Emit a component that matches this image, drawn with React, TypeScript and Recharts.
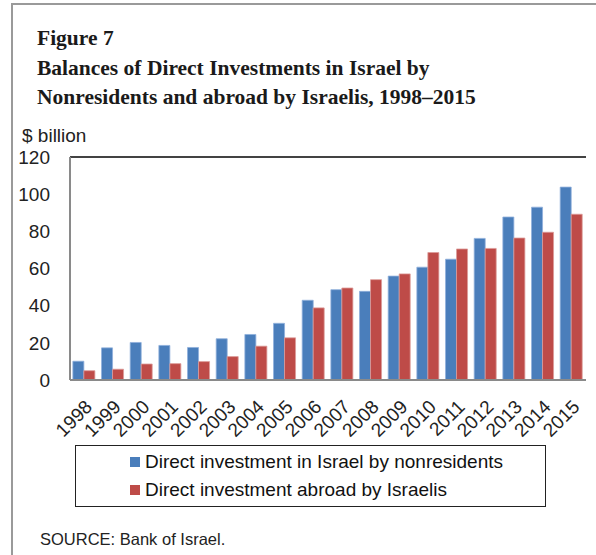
import { BarChart, Bar, XAxis, YAxis, CartesianGrid, ReferenceLine } from 'recharts';

const years = ['1998', '1999', '2000', '2001', '2002', '2003', '2004', '2005', '2006', '2007', '2008', '2009', '2010', '2011', '2012', '2013', '2014', '2015'];
const nonresidents = [10.1, 17.3, 20.2, 18.6, 17.5, 22.2, 24.5, 30.5, 42.9, 48.6, 47.7, 55.9, 60.7, 65.0, 76.2, 87.7, 93.0, 103.8];
const israelis = [5.0, 5.8, 8.6, 8.8, 9.9, 12.6, 18.2, 22.7, 38.8, 49.5, 54.0, 57.1, 68.6, 70.5, 70.8, 76.4, 79.5, 89.2];
const yTicks = [0, 20, 40, 60, 80, 100, 120];

const data = years.map((y, i) => ({ year: y, nonres: nonresidents[i], isr: israelis[i] }));

const BLUE = '#4A7EBB';
const RED = '#BE4B48';
const series = [
  { key: 'nonres', name: 'Direct investment in Israel by nonresidents', color: BLUE, edge: '#8fb0dc' },
  { key: 'isr', name: 'Direct investment abroad by Israelis', color: RED, edge: '#dc9a98' },
];

function YearTick(props: any) {
  const { x, y, payload } = props;
  return (
    <g transform={`translate(${x + 9},${y + 20})`}>
      <text textAnchor="end" transform="rotate(-45)" fontSize={19} fill="#222" fontFamily="Liberation Sans, Arial, sans-serif">
        {payload.value}
      </text>
    </g>
  );
}

export default function App() {
  return (
    <div style={{ position: 'absolute', left: 0, top: 0, width: 596, height: 555, background: '#fff', overflow: 'hidden', fontFamily: 'Liberation Sans, Arial, sans-serif' }}>
      <div style={{ position: 'absolute', left: 11, top: 3, width: 600, height: 600, borderTop: '2px solid #9a9a9a', borderLeft: '2px solid #9a9a9a' }} />
      <div style={{ position: 'absolute', left: 37, top: 24, fontFamily: 'Liberation Serif, Times New Roman, serif', fontWeight: 'bold', fontSize: 21.5, lineHeight: '29.5px', color: '#1a1a1a' }}>
        Figure 7<br />
        Balances of Direct Investments in Israel by<br />
        Nonresidents and abroad by Israelis, 1998–2015
      </div>
      <div style={{ position: 'absolute', left: 22, top: 125, fontSize: 19, color: '#222' }}>$ billion</div>
      <div style={{ position: 'absolute', left: 40, top: 530, fontSize: 16.5, color: '#222' }}>SOURCE: Bank of Israel.</div>
      <div style={{ position: 'absolute', left: 75, top: 445, width: 471, height: 62, border: '1.5px solid #222', boxSizing: 'border-box', paddingTop: 2 }}>
        {series.map((s) => (
          <div key={s.key} style={{ display: 'flex', alignItems: 'center', height: 28, paddingLeft: 54 }}>
            <span style={{ width: 10, height: 10, background: s.color, display: 'inline-block', marginRight: 5 }} />
            <span style={{ fontSize: 19, color: '#111' }}>{s.name}</span>
          </div>
        ))}
      </div>
      <div style={{ position: 'absolute', left: 0, top: 0 }}>
        <BarChart width={596} height={555} data={data} margin={{ top: 157, right: 10, left: 0, bottom: 115 }} barCategoryGap="10%" barGap={0}>
          <CartesianGrid vertical={false} stroke="#8a8a8a" strokeWidth={1.5} />
          <XAxis dataKey="year" height={60} interval={0} tickLine={false} axisLine={{ stroke: '#8a8a8a', strokeWidth: 2 }} tick={<YearTick />} />
          <YAxis yAxisId="left" domain={[0, 120]} ticks={yTicks} interval={0} width={70} tickLine={false} tickMargin={14} axisLine={{ stroke: '#8a8a8a', strokeWidth: 2 }} tick={{ fontSize: 19, fill: '#222' }} />
          <YAxis yAxisId="right" orientation="right" domain={[0, 120]} width={0} tick={false} tickLine={false} axisLine={{ stroke: '#222', strokeWidth: 1.5 }} />
          <ReferenceLine yAxisId="left" y={120} stroke="#222" strokeWidth={1.5} />
          {series.map((s) => (
            <Bar key={s.key} yAxisId="left" dataKey={s.key} name={s.name} fill={s.color} stroke={s.edge} strokeWidth={0.8} isAnimationActive={false} />
          ))}
        </BarChart>
      </div>
    </div>
  );
}
